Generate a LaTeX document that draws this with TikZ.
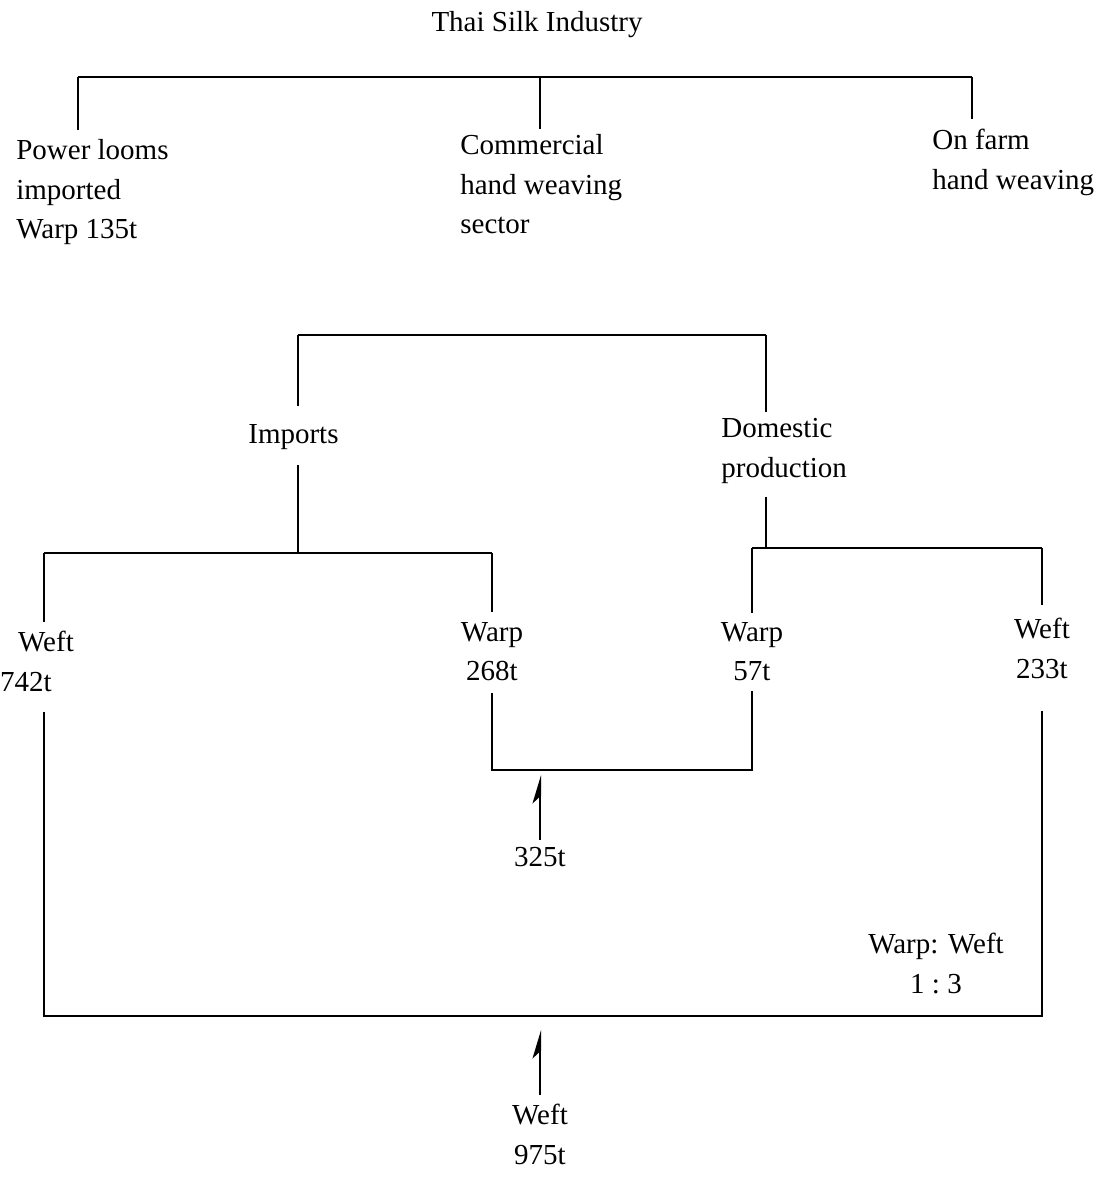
\documentclass[tikz,border=0pt]{standalone}
\usepackage{fontspec}
\setmainfont{Liberation Serif}
\usetikzlibrary{arrows.meta, positioning, calc}

\begin{document}
\begin{tikzpicture}[
  x=0.02cm, y=-0.02cm,
  lbl/.style={inner sep=0pt, align=left, font=\fontsize{16.5}{22.5}\selectfont},
  clbl/.style={lbl, align=center, anchor=north},
  link/.style={line width=1.2pt},
  arrow/.style={line width=1.2pt, -{Stealth[harpoon, length=0.5cm, width=0.3cm, inset=0.14cm]}}
]
  \useasboundingbox (0,0) rectangle (1102,1181);

  \node[clbl] (title) at (537,11) {Thai Silk Industry};
  \node[lbl, anchor=north west] (power) at (16,139) {Power looms\\imported\\Warp 135t};
  \node[lbl, anchor=north west] (commercial) at (460,134) {Commercial\\hand weaving\\sector};
  \node[lbl, anchor=north west] (onfarm) at (932,129) {On farm\\hand weaving};

  \coordinate (sec1) at (78,77);
  \coordinate (sec2) at (540,77);
  \coordinate (sec3) at (972,77);
  \draw[link] (sec1) -- (sec3);
  \draw[link, shorten >=0.18cm] (sec1) -- (sec1 |- power.north);
  \draw[link, shorten >=0.1cm] (sec2) -- (sec2 |- commercial.north);
  \draw[link, shorten >=0.2cm] (sec3) -- (sec3 |- onfarm.north);

  \node[lbl, anchor=north west] (imports) at (248,424) {Imports};
  \node[lbl, anchor=north west] (domestic) at (721,418) {Domestic\\production};

  \coordinate (src1) at (298,335);
  \coordinate (src2) at (766,335);
  \draw[link] (src1) -- (src2);
  \draw[link, shorten >=0.36cm] (src1) -- (src1 |- imports.north);
  \draw[link, shorten >=0.12cm] (src2) -- (src2 |- domestic.north);

  \node[clbl] (weftimp) at (46,631) {Weft};
  \node[clbl] (weftimpt) at (26,672) {742t};
  \node[clbl] (warpimp) at (492,622) {Warp\\268t};
  \node[clbl] (warpdom) at (752,622) {Warp\\57t};
  \node[clbl] (weftdom) at (1042,618) {Weft\\233t};

  \coordinate (imp1) at (44,553);
  \coordinate (imp2) at (492,553);
  \coordinate (dom1) at (752,548);
  \coordinate (dom2) at (1042,548);
  \draw[link] (imp1) -- (imp2);
  \draw[link] (dom1) -- (dom2);
  \draw[link, shorten <=0.3cm] (imports.south -| src1) -- (src1 |- imp1);
  \draw[link, shorten <=0.26cm] (domestic.south -| src2) -- (src2 |- dom1);
  \draw[link, shorten >=0.18cm] (imp1) -- (imp1 |- weftimp.north);
  \draw[link, shorten >=0.2cm] (imp2) -- (imp2 |- warpimp.north);
  \draw[link, shorten >=0.18cm] (dom1) -- (dom1 |- warpdom.north);
  \draw[link, shorten >=0.26cm] (dom2) -- (dom2 |- weftdom.north);

  \coordinate (warpjoin) at (540,770);
  \coordinate (weftjoin) at (540,1016);
  \draw[link, shorten <=0.22cm] (warpimp.south) -- (warpimp.south |- warpjoin) -- (warpdom.south |- warpjoin) -- ([shift={(0,9)}]warpdom.south);
  \draw[link, shorten <=0.4cm] (imp1 |- weftimpt.south) -- (imp1 |- weftjoin) -- (dom2 |- weftjoin) -- ([shift={(0,32)}]weftdom.south);

  \node[clbl] (warpin) at (540,847) {325t};
  \node[clbl] (weftin) at (540,1104) {Weft\\975t};
  \node[clbl] (ratio) at (936,933) {Warp: Weft\\1 :\ 3};

  \draw[arrow, shorten <=0.14cm, shorten >=0.1cm] (warpin.north) -- (warpjoin);
  \draw[arrow, shorten <=0.18cm, shorten >=0.28cm] (weftin.north) -- (weftjoin);
\end{tikzpicture}
\end{document}
